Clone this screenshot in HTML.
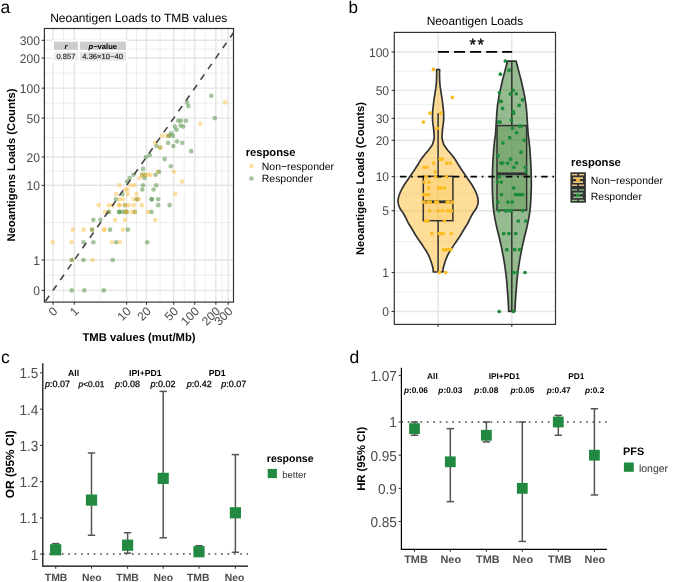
<!DOCTYPE html>
<html><head><meta charset="utf-8"><style>
html,body{margin:0;padding:0;background:#fff;}
svg{display:block;font-family:"Liberation Sans", sans-serif;text-rendering:geometricPrecision;}
#wrap{width:685px;height:582px;will-change:transform;overflow:hidden;}
</style></head><body><div id="wrap">
<svg width="685" height="582" viewBox="0 0 685 582">
<defs><filter id="soft" x="0" y="0" width="1" height="1"><feGaussianBlur stdDeviation="0.35"/></filter></defs>
<rect width="685" height="582" fill="#fff"/>
<g filter="url(#soft)">
<text x="0.6" y="12.9" font-size="17.5" fill="#000">a</text>
<text x="138.75" y="21.9" font-size="12.0" text-anchor="middle" font-weight="normal" fill="#000" >Neoantigen Loads to TMB values</text>
<line x1="63.64" y1="28.5" x2="63.64" y2="302.1" stroke="#E8E8E8" stroke-width="0.8" />
<line x1="44.4" y1="275.21" x2="233.5" y2="275.21" stroke="#E8E8E8" stroke-width="0.8" />
<line x1="100.45" y1="28.5" x2="100.45" y2="302.1" stroke="#E8E8E8" stroke-width="0.8" />
<line x1="44.4" y1="222.67" x2="233.5" y2="222.67" stroke="#E8E8E8" stroke-width="0.8" />
<line x1="136.55" y1="28.5" x2="136.55" y2="302.1" stroke="#E8E8E8" stroke-width="0.8" />
<line x1="44.4" y1="171.16" x2="233.5" y2="171.16" stroke="#E8E8E8" stroke-width="0.8" />
<line x1="160.1" y1="28.5" x2="160.1" y2="302.1" stroke="#E8E8E8" stroke-width="0.8" />
<line x1="44.4" y1="137.55" x2="233.5" y2="137.55" stroke="#E8E8E8" stroke-width="0.8" />
<line x1="184.22" y1="28.5" x2="184.22" y2="302.1" stroke="#E8E8E8" stroke-width="0.8" />
<line x1="44.4" y1="103.14" x2="233.5" y2="103.14" stroke="#E8E8E8" stroke-width="0.8" />
<line x1="205.27" y1="28.5" x2="205.27" y2="302.1" stroke="#E8E8E8" stroke-width="0.8" />
<line x1="44.4" y1="73.09" x2="233.5" y2="73.09" stroke="#E8E8E8" stroke-width="0.8" />
<line x1="222.04" y1="28.5" x2="222.04" y2="302.1" stroke="#E8E8E8" stroke-width="0.8" />
<line x1="44.4" y1="49.16" x2="233.5" y2="49.16" stroke="#E8E8E8" stroke-width="0.8" />
<line x1="53" y1="28.5" x2="53" y2="302.1" stroke="#E5E5E5" stroke-width="1.4" />
<line x1="44.4" y1="290.4" x2="233.5" y2="290.4" stroke="#E5E5E5" stroke-width="1.4" />
<line x1="74.28" y1="28.5" x2="74.28" y2="302.1" stroke="#E5E5E5" stroke-width="1.4" />
<line x1="44.4" y1="260.03" x2="233.5" y2="260.03" stroke="#E5E5E5" stroke-width="1.4" />
<line x1="126.63" y1="28.5" x2="126.63" y2="302.1" stroke="#E5E5E5" stroke-width="1.4" />
<line x1="44.4" y1="185.32" x2="233.5" y2="185.32" stroke="#E5E5E5" stroke-width="1.4" />
<line x1="146.48" y1="28.5" x2="146.48" y2="302.1" stroke="#E5E5E5" stroke-width="1.4" />
<line x1="44.4" y1="156.99" x2="233.5" y2="156.99" stroke="#E5E5E5" stroke-width="1.4" />
<line x1="173.73" y1="28.5" x2="173.73" y2="302.1" stroke="#E5E5E5" stroke-width="1.4" />
<line x1="44.4" y1="118.11" x2="233.5" y2="118.11" stroke="#E5E5E5" stroke-width="1.4" />
<line x1="194.71" y1="28.5" x2="194.71" y2="302.1" stroke="#E5E5E5" stroke-width="1.4" />
<line x1="44.4" y1="88.16" x2="233.5" y2="88.16" stroke="#E5E5E5" stroke-width="1.4" />
<line x1="215.84" y1="28.5" x2="215.84" y2="302.1" stroke="#E5E5E5" stroke-width="1.4" />
<line x1="44.4" y1="58.01" x2="233.5" y2="58.01" stroke="#E5E5E5" stroke-width="1.4" />
<line x1="228.23" y1="28.5" x2="228.23" y2="302.1" stroke="#E5E5E5" stroke-width="1.4" />
<line x1="44.4" y1="40.31" x2="233.5" y2="40.31" stroke="#E5E5E5" stroke-width="1.4" />
<rect x="52.2" y="39.7" width="75.5" height="22.9" fill="#FFFFFF"/>
<rect x="54" y="41.7" width="23.9" height="8.2" fill="#CCCCCC"/>
<rect x="79.9" y="41.7" width="46" height="8.2" fill="#CCCCCC"/>
<rect x="54" y="51.9" width="23.9" height="8.8" fill="#F0F0F2"/>
<rect x="79.9" y="51.9" width="46" height="8.8" fill="#E4E4E4"/>
<text x="65.9" y="48.9" font-size="7.6" text-anchor="middle" font-weight="bold" font-style="italic" fill="#000">r</text>
<text x="102.8" y="48.9" font-size="7.6" text-anchor="middle" font-weight="bold" fill="#000"><tspan font-style="italic">p</tspan>−value</text>
<text x="65.9" y="59" font-size="7.6" text-anchor="middle" fill="#222" stroke="#222" stroke-width="0.15">0.857</text>
<text x="102.6" y="59" font-size="7.6" text-anchor="middle" fill="#222" stroke="#222" stroke-width="0.15">4.36×10−40</text>
<g>
<circle cx="71.8" cy="290.4" r="2.3" fill="rgba(74,139,60,0.5)"/>
<circle cx="84.3" cy="290.4" r="2.3" fill="rgba(74,139,60,0.5)"/>
<circle cx="103.8" cy="290.4" r="2.3" fill="rgba(74,139,60,0.5)"/>
<circle cx="71.8" cy="260.03" r="2.3" fill="rgba(251,186,53,0.45)"/>
<circle cx="71.8" cy="260.03" r="2.3" fill="rgba(74,139,60,0.5)"/>
<circle cx="83.5" cy="260.03" r="2.3" fill="rgba(74,139,60,0.5)"/>
<circle cx="92.6" cy="260.03" r="2.3" fill="rgba(251,186,53,0.45)"/>
<circle cx="112.7" cy="260.03" r="2.3" fill="rgba(74,139,60,0.5)"/>
<circle cx="52.7" cy="242.26" r="2.3" fill="rgba(251,186,53,0.45)"/>
<circle cx="71.5" cy="242.26" r="2.3" fill="rgba(251,186,53,0.45)"/>
<circle cx="83.5" cy="242.26" r="2.3" fill="rgba(74,139,60,0.5)"/>
<circle cx="93.4" cy="242.26" r="2.3" fill="rgba(74,139,60,0.5)"/>
<circle cx="111.8" cy="242.26" r="2.3" fill="rgba(251,186,53,0.45)"/>
<circle cx="116.2" cy="242.26" r="2.3" fill="rgba(74,139,60,0.5)"/>
<circle cx="119.7" cy="242.26" r="2.3" fill="rgba(251,186,53,0.45)"/>
<circle cx="147.2" cy="242.26" r="2.3" fill="rgba(74,139,60,0.5)"/>
<circle cx="72.8" cy="229.65" r="2.3" fill="rgba(251,186,53,0.45)"/>
<circle cx="83.5" cy="229.65" r="2.3" fill="rgba(251,186,53,0.45)"/>
<circle cx="92.1" cy="229.65" r="2.3" fill="rgba(251,186,53,0.45)"/>
<circle cx="92.1" cy="229.65" r="2.3" fill="rgba(74,139,60,0.5)"/>
<circle cx="104.2" cy="229.65" r="2.3" fill="rgba(251,186,53,0.45)"/>
<circle cx="104.2" cy="229.65" r="2.3" fill="rgba(251,186,53,0.45)"/>
<circle cx="110.1" cy="229.65" r="2.3" fill="rgba(74,139,60,0.5)"/>
<circle cx="122.9" cy="229.65" r="2.3" fill="rgba(251,186,53,0.45)"/>
<circle cx="127.9" cy="229.65" r="2.3" fill="rgba(74,139,60,0.5)"/>
<circle cx="93.4" cy="219.87" r="2.3" fill="rgba(74,139,60,0.5)"/>
<circle cx="100.4" cy="219.87" r="2.3" fill="rgba(74,139,60,0.5)"/>
<circle cx="115.1" cy="219.87" r="2.3" fill="rgba(251,186,53,0.45)"/>
<circle cx="125" cy="219.87" r="2.3" fill="rgba(251,186,53,0.45)"/>
<circle cx="155.3" cy="219.87" r="2.3" fill="rgba(251,186,53,0.45)"/>
<circle cx="105" cy="211.88" r="2.3" fill="rgba(251,186,53,0.45)"/>
<circle cx="108.8" cy="211.88" r="2.3" fill="rgba(251,186,53,0.45)"/>
<circle cx="108.8" cy="211.88" r="2.3" fill="rgba(74,139,60,0.5)"/>
<circle cx="119.3" cy="211.88" r="2.3" fill="rgba(74,139,60,0.5)"/>
<circle cx="119.3" cy="211.88" r="2.3" fill="rgba(74,139,60,0.5)"/>
<circle cx="122.8" cy="211.88" r="2.3" fill="rgba(74,139,60,0.5)"/>
<circle cx="125.5" cy="211.88" r="2.3" fill="rgba(74,139,60,0.5)"/>
<circle cx="125.5" cy="211.88" r="2.3" fill="rgba(251,186,53,0.45)"/>
<circle cx="126.8" cy="211.88" r="2.3" fill="rgba(74,139,60,0.5)"/>
<circle cx="126.8" cy="211.88" r="2.3" fill="rgba(251,186,53,0.45)"/>
<circle cx="132.1" cy="211.88" r="2.3" fill="rgba(251,186,53,0.45)"/>
<circle cx="134.8" cy="211.88" r="2.3" fill="rgba(74,139,60,0.5)"/>
<circle cx="134.8" cy="211.88" r="2.3" fill="rgba(251,186,53,0.45)"/>
<circle cx="148.2" cy="211.88" r="2.3" fill="rgba(251,186,53,0.45)"/>
<circle cx="151.5" cy="211.88" r="2.3" fill="rgba(74,139,60,0.5)"/>
<circle cx="98.6" cy="205.13" r="2.3" fill="rgba(251,186,53,0.45)"/>
<circle cx="108.7" cy="205.13" r="2.3" fill="rgba(251,186,53,0.45)"/>
<circle cx="112.6" cy="205.13" r="2.3" fill="rgba(251,186,53,0.45)"/>
<circle cx="119.3" cy="205.13" r="2.3" fill="rgba(251,186,53,0.45)"/>
<circle cx="119.3" cy="205.13" r="2.3" fill="rgba(251,186,53,0.45)"/>
<circle cx="125" cy="205.13" r="2.3" fill="rgba(74,139,60,0.5)"/>
<circle cx="125" cy="205.13" r="2.3" fill="rgba(251,186,53,0.45)"/>
<circle cx="128.6" cy="205.13" r="2.3" fill="rgba(251,186,53,0.45)"/>
<circle cx="133.8" cy="205.13" r="2.3" fill="rgba(251,186,53,0.45)"/>
<circle cx="141.9" cy="205.13" r="2.3" fill="rgba(251,186,53,0.45)"/>
<circle cx="158.2" cy="205.13" r="2.3" fill="rgba(74,139,60,0.5)"/>
<circle cx="169.6" cy="205.13" r="2.3" fill="rgba(74,139,60,0.5)"/>
<circle cx="116" cy="199.28" r="2.3" fill="rgba(74,139,60,0.5)"/>
<circle cx="119.6" cy="199.28" r="2.3" fill="rgba(251,186,53,0.45)"/>
<circle cx="122.9" cy="199.28" r="2.3" fill="rgba(251,186,53,0.45)"/>
<circle cx="133.8" cy="199.28" r="2.3" fill="rgba(251,186,53,0.45)"/>
<circle cx="137.1" cy="199.28" r="2.3" fill="rgba(251,186,53,0.45)"/>
<circle cx="137.1" cy="199.28" r="2.3" fill="rgba(74,139,60,0.5)"/>
<circle cx="139" cy="199.28" r="2.3" fill="rgba(251,186,53,0.45)"/>
<circle cx="151.7" cy="199.28" r="2.3" fill="rgba(74,139,60,0.5)"/>
<circle cx="151.7" cy="199.28" r="2.3" fill="rgba(74,139,60,0.5)"/>
<circle cx="158.1" cy="199.28" r="2.3" fill="rgba(74,139,60,0.5)"/>
<circle cx="116.3" cy="194.12" r="2.3" fill="rgba(251,186,53,0.45)"/>
<circle cx="122.4" cy="194.12" r="2.3" fill="rgba(74,139,60,0.5)"/>
<circle cx="127.6" cy="194.12" r="2.3" fill="rgba(251,186,53,0.45)"/>
<circle cx="136.4" cy="194.12" r="2.3" fill="rgba(251,186,53,0.45)"/>
<circle cx="175.2" cy="194.12" r="2.3" fill="rgba(251,186,53,0.45)"/>
<circle cx="125.2" cy="189.5" r="2.3" fill="rgba(251,186,53,0.45)"/>
<circle cx="127.6" cy="189.5" r="2.3" fill="rgba(251,186,53,0.45)"/>
<circle cx="142.3" cy="189.5" r="2.3" fill="rgba(74,139,60,0.5)"/>
<circle cx="153.6" cy="189.5" r="2.3" fill="rgba(74,139,60,0.5)"/>
<circle cx="119.4" cy="185.32" r="2.3" fill="rgba(251,186,53,0.45)"/>
<circle cx="130.8" cy="185.32" r="2.3" fill="rgba(251,186,53,0.45)"/>
<circle cx="134.5" cy="185.32" r="2.3" fill="rgba(251,186,53,0.45)"/>
<circle cx="143.1" cy="185.32" r="2.3" fill="rgba(74,139,60,0.5)"/>
<circle cx="156.2" cy="185.32" r="2.3" fill="rgba(74,139,60,0.5)"/>
<circle cx="127" cy="181.51" r="2.3" fill="rgba(74,139,60,0.5)"/>
<circle cx="182" cy="181.51" r="2.3" fill="rgba(251,186,53,0.45)"/>
<circle cx="129.7" cy="178" r="2.3" fill="rgba(74,139,60,0.5)"/>
<circle cx="139.6" cy="178" r="2.3" fill="rgba(251,186,53,0.45)"/>
<circle cx="144.4" cy="178" r="2.3" fill="rgba(74,139,60,0.5)"/>
<circle cx="133.5" cy="174.76" r="2.3" fill="rgba(74,139,60,0.5)"/>
<circle cx="142" cy="174.76" r="2.3" fill="rgba(74,139,60,0.5)"/>
<circle cx="142" cy="174.76" r="2.3" fill="rgba(251,186,53,0.45)"/>
<circle cx="144.8" cy="174.76" r="2.3" fill="rgba(74,139,60,0.5)"/>
<circle cx="144.8" cy="174.76" r="2.3" fill="rgba(251,186,53,0.45)"/>
<circle cx="148.2" cy="174.76" r="2.3" fill="rgba(251,186,53,0.45)"/>
<circle cx="150.6" cy="174.76" r="2.3" fill="rgba(251,186,53,0.45)"/>
<circle cx="155.6" cy="174.76" r="2.3" fill="rgba(74,139,60,0.5)"/>
<circle cx="157.6" cy="171.73" r="2.3" fill="rgba(251,186,53,0.45)"/>
<circle cx="159.2" cy="171.73" r="2.3" fill="rgba(74,139,60,0.5)"/>
<circle cx="173.8" cy="171.73" r="2.3" fill="rgba(251,186,53,0.45)"/>
<circle cx="143.1" cy="168.9" r="2.3" fill="rgba(74,139,60,0.5)"/>
<circle cx="170.8" cy="166.25" r="2.3" fill="rgba(74,139,60,0.5)"/>
<circle cx="164.7" cy="159.13" r="2.3" fill="rgba(74,139,60,0.5)"/>
<circle cx="146" cy="156.99" r="2.3" fill="rgba(74,139,60,0.5)"/>
<circle cx="149.8" cy="154.95" r="2.3" fill="rgba(74,139,60,0.5)"/>
<circle cx="191.2" cy="151.14" r="2.3" fill="rgba(74,139,60,0.5)"/>
<circle cx="160.2" cy="147.63" r="2.3" fill="rgba(74,139,60,0.5)"/>
<circle cx="160.2" cy="147.63" r="2.3" fill="rgba(251,186,53,0.45)"/>
<circle cx="156.5" cy="145.98" r="2.3" fill="rgba(74,139,60,0.5)"/>
<circle cx="173.3" cy="145.98" r="2.3" fill="rgba(74,139,60,0.5)"/>
<circle cx="155.1" cy="142.84" r="2.3" fill="rgba(251,186,53,0.45)"/>
<circle cx="168.1" cy="142.84" r="2.3" fill="rgba(74,139,60,0.5)"/>
<circle cx="182.3" cy="142.84" r="2.3" fill="rgba(74,139,60,0.5)"/>
<circle cx="177" cy="141.36" r="2.3" fill="rgba(74,139,60,0.5)"/>
<circle cx="162.2" cy="135.87" r="2.3" fill="rgba(251,186,53,0.45)"/>
<circle cx="167" cy="135.87" r="2.3" fill="rgba(251,186,53,0.45)"/>
<circle cx="168.8" cy="135.87" r="2.3" fill="rgba(251,186,53,0.45)"/>
<circle cx="168.8" cy="135.87" r="2.3" fill="rgba(74,139,60,0.5)"/>
<circle cx="173" cy="135.87" r="2.3" fill="rgba(74,139,60,0.5)"/>
<circle cx="171.1" cy="133.37" r="2.3" fill="rgba(74,139,60,0.5)"/>
<circle cx="176.5" cy="129.86" r="2.3" fill="rgba(74,139,60,0.5)"/>
<circle cx="174.8" cy="126.61" r="2.3" fill="rgba(74,139,60,0.5)"/>
<circle cx="183.3" cy="126.61" r="2.3" fill="rgba(74,139,60,0.5)"/>
<circle cx="180.5" cy="125.58" r="2.3" fill="rgba(74,139,60,0.5)"/>
<circle cx="200.4" cy="123.59" r="2.3" fill="rgba(251,186,53,0.45)"/>
<circle cx="178.2" cy="120.76" r="2.3" fill="rgba(74,139,60,0.5)"/>
<circle cx="181.1" cy="120.76" r="2.3" fill="rgba(74,139,60,0.5)"/>
<circle cx="186" cy="120.76" r="2.3" fill="rgba(74,139,60,0.5)"/>
<circle cx="214.8" cy="118.11" r="2.3" fill="rgba(74,139,60,0.5)"/>
<circle cx="188.4" cy="106.15" r="2.3" fill="rgba(74,139,60,0.5)"/>
<circle cx="187.1" cy="102.39" r="2.3" fill="rgba(74,139,60,0.5)"/>
<circle cx="225.3" cy="102.39" r="2.3" fill="rgba(251,186,53,0.45)"/>
<circle cx="211.3" cy="95.72" r="2.3" fill="rgba(74,139,60,0.5)"/>
</g>
<clipPath id="cpa"><rect x="44.4" y="28.5" width="189.1" height="273.6"/></clipPath>
<line x1="44.4" y1="302.67" x2="233.5" y2="32.8" stroke="#444444" stroke-width="1.6" stroke-dasharray="6.45 6.42" stroke-dashoffset="10.87" clip-path="url(#cpa)"/>
<rect x="44.4" y="28.5" width="189.1" height="273.6" fill="none" stroke="#333333" stroke-width="1.2"/>
<line x1="41.7" y1="290.4" x2="44.4" y2="290.4" stroke="#333333" stroke-width="1.07" />
<text transform="translate(39.9,295.11) scale(1,1.04)" font-size="12.1" text-anchor="end" fill="#4D4D4D">0</text>
<line x1="53" y1="302.1" x2="53" y2="304.8" stroke="#333333" stroke-width="1.07" />
<text transform="translate(58.2,311.9) rotate(-45)" font-size="12.1" text-anchor="end" fill="#4D4D4D">0</text>
<line x1="41.7" y1="260.03" x2="44.4" y2="260.03" stroke="#333333" stroke-width="1.07" />
<text transform="translate(39.9,264.73) scale(1,1.04)" font-size="12.1" text-anchor="end" fill="#4D4D4D">1</text>
<line x1="74.28" y1="302.1" x2="74.28" y2="304.8" stroke="#333333" stroke-width="1.07" />
<text transform="translate(79.48,311.9) rotate(-45)" font-size="12.1" text-anchor="end" fill="#4D4D4D">1</text>
<line x1="41.7" y1="185.32" x2="44.4" y2="185.32" stroke="#333333" stroke-width="1.07" />
<text transform="translate(39.9,190.03) scale(1,1.04)" font-size="12.1" text-anchor="end" fill="#4D4D4D">10</text>
<line x1="126.63" y1="302.1" x2="126.63" y2="304.8" stroke="#333333" stroke-width="1.07" />
<text transform="translate(131.83,311.9) rotate(-45)" font-size="12.1" text-anchor="end" fill="#4D4D4D">10</text>
<line x1="41.7" y1="156.99" x2="44.4" y2="156.99" stroke="#333333" stroke-width="1.07" />
<text transform="translate(39.9,161.69) scale(1,1.04)" font-size="12.1" text-anchor="end" fill="#4D4D4D">20</text>
<line x1="146.48" y1="302.1" x2="146.48" y2="304.8" stroke="#333333" stroke-width="1.07" />
<text transform="translate(151.68,311.9) rotate(-45)" font-size="12.1" text-anchor="end" fill="#4D4D4D">20</text>
<line x1="41.7" y1="118.11" x2="44.4" y2="118.11" stroke="#333333" stroke-width="1.07" />
<text transform="translate(39.9,122.81) scale(1,1.04)" font-size="12.1" text-anchor="end" fill="#4D4D4D">50</text>
<line x1="173.73" y1="302.1" x2="173.73" y2="304.8" stroke="#333333" stroke-width="1.07" />
<text transform="translate(178.93,311.9) rotate(-45)" font-size="12.1" text-anchor="end" fill="#4D4D4D">50</text>
<line x1="41.7" y1="88.16" x2="44.4" y2="88.16" stroke="#333333" stroke-width="1.07" />
<text transform="translate(39.9,92.87) scale(1,1.04)" font-size="12.1" text-anchor="end" fill="#4D4D4D">100</text>
<line x1="194.71" y1="302.1" x2="194.71" y2="304.8" stroke="#333333" stroke-width="1.07" />
<text transform="translate(199.91,311.9) rotate(-45)" font-size="12.1" text-anchor="end" fill="#4D4D4D">100</text>
<line x1="41.7" y1="58.01" x2="44.4" y2="58.01" stroke="#333333" stroke-width="1.07" />
<text transform="translate(39.9,62.71) scale(1,1.04)" font-size="12.1" text-anchor="end" fill="#4D4D4D">200</text>
<line x1="215.84" y1="302.1" x2="215.84" y2="304.8" stroke="#333333" stroke-width="1.07" />
<text transform="translate(221.04,311.9) rotate(-45)" font-size="12.1" text-anchor="end" fill="#4D4D4D">200</text>
<line x1="41.7" y1="40.31" x2="44.4" y2="40.31" stroke="#333333" stroke-width="1.07" />
<text transform="translate(39.9,45.02) scale(1,1.04)" font-size="12.1" text-anchor="end" fill="#4D4D4D">300</text>
<line x1="228.23" y1="302.1" x2="228.23" y2="304.8" stroke="#333333" stroke-width="1.07" />
<text transform="translate(233.43,311.9) rotate(-45)" font-size="12.1" text-anchor="end" fill="#4D4D4D">300</text>
<text x="139" y="340.5" font-size="11.25" text-anchor="middle" font-weight="bold" fill="#000" >TMB values (mut/Mb)</text>
<text transform="translate(14.8,165.05) rotate(-90)" font-size="11.25" text-anchor="middle" font-weight="bold" fill="#000">Neoantigens Loads (Counts)</text>
<text x="245.7" y="156" font-size="11.2" text-anchor="start" font-weight="bold" fill="#000" >response</text>
<circle cx="251.4" cy="166.3" r="2.3" fill="rgba(251,186,53,0.45)"/>
<circle cx="251.4" cy="178.5" r="2.3" fill="rgba(74,139,60,0.5)"/>
<text x="261.8" y="169.5" font-size="10.45" text-anchor="start" font-weight="normal" fill="#000" >Non−responder</text>
<text x="261.8" y="181.8" font-size="10.45" text-anchor="start" font-weight="normal" fill="#000" >Responder</text>
<text x="348.4" y="13.1" font-size="17" fill="#000">b</text>
<text x="474.9" y="25.1" font-size="11.9" text-anchor="middle" font-weight="normal" fill="#000" >Neoantigen Loads</text>
<line x1="394.3" y1="292.01" x2="555.5" y2="292.01" stroke="#E8E8E8" stroke-width="0.8" />
<line x1="394.3" y1="241.62" x2="555.5" y2="241.62" stroke="#E8E8E8" stroke-width="0.8" />
<line x1="394.3" y1="193.68" x2="555.5" y2="193.68" stroke="#E8E8E8" stroke-width="0.8" />
<line x1="394.3" y1="158.46" x2="555.5" y2="158.46" stroke="#E8E8E8" stroke-width="0.8" />
<line x1="394.3" y1="129.32" x2="555.5" y2="129.32" stroke="#E8E8E8" stroke-width="0.8" />
<line x1="394.3" y1="104.37" x2="555.5" y2="104.37" stroke="#E8E8E8" stroke-width="0.8" />
<line x1="394.3" y1="71.16" x2="555.5" y2="71.16" stroke="#E8E8E8" stroke-width="0.8" />
<line x1="394.3" y1="311.5" x2="555.5" y2="311.5" stroke="#E5E5E5" stroke-width="1.4" />
<line x1="394.3" y1="272.52" x2="555.5" y2="272.52" stroke="#E5E5E5" stroke-width="1.4" />
<line x1="394.3" y1="210.73" x2="555.5" y2="210.73" stroke="#E5E5E5" stroke-width="1.4" />
<line x1="394.3" y1="176.64" x2="555.5" y2="176.64" stroke="#E5E5E5" stroke-width="1.4" />
<line x1="394.3" y1="140.27" x2="555.5" y2="140.27" stroke="#E5E5E5" stroke-width="1.4" />
<line x1="394.3" y1="118.37" x2="555.5" y2="118.37" stroke="#E5E5E5" stroke-width="1.4" />
<line x1="394.3" y1="90.37" x2="555.5" y2="90.37" stroke="#E5E5E5" stroke-width="1.4" />
<line x1="394.3" y1="51.94" x2="555.5" y2="51.94" stroke="#E5E5E5" stroke-width="1.4" />
<line x1="438.1" y1="32.4" x2="438.1" y2="324.4" stroke="#E5E5E5" stroke-width="1.4" />
<line x1="511.8" y1="32.4" x2="511.8" y2="324.4" stroke="#E5E5E5" stroke-width="1.4" />
<clipPath id="cpb"><rect x="394.3" y="32.4" width="161.2" height="292.0"/></clipPath>
<path d="M436.6,69.6 L436.7,75 L436.5,81.5 L436.1,86 L435.5,90.1 L434.9,94 L434.2,98.7 L433.6,103 L433.1,107.3 L432.7,111 L432.5,115.8 L432.6,121 L433.1,125 L433.6,128.5 L433.9,131.9 L434.1,135 L434.2,138 L433.5,141 L432.4,144.7 L430.8,147 L428.7,150 L427.5,151.4 L425.1,154 L422.9,156.9 L421.9,158.1 L420.3,160.5 L418.5,163.7 L416.3,167 L414.1,170.6 L411.7,174 L409.3,177.5 L406.9,181 L404.6,184.3 L402.6,187.7 L400.8,191.2 L399.4,194.5 L398.4,197.7 L398,200.5 L398.1,202.5 L398.6,205 L399.6,207.7 L401,210 L402.5,212 L404.3,215 L406.2,218.7 L407.8,222 L408.7,223.8 L409.8,225.5 L411.1,227.5 L413.2,231 L415.5,235 L417.3,237.7 L419.7,241.2 L422,244.6 L424.3,248.1 L426.5,251.5 L428.4,254.9 L429.9,258.3 L431.1,261.8 L432.2,265.2 L433.1,268.7 L433.3,272 L442.9,272 L443.1,268.7 L444,265.2 L445.1,261.8 L446.3,258.3 L447.8,254.9 L449.7,251.5 L451.9,248.1 L454.2,244.6 L456.5,241.2 L458.9,237.7 L460.7,235 L463,231 L465.1,227.5 L466.4,225.5 L467.5,223.8 L468.4,222 L470,218.7 L471.9,215 L473.7,212 L475.2,210 L476.6,207.7 L477.6,205 L478.1,202.5 L478.2,200.5 L477.8,197.7 L476.8,194.5 L475.4,191.2 L473.6,187.7 L471.6,184.3 L469.3,181 L466.9,177.5 L464.5,174 L462.1,170.6 L459.9,167 L457.7,163.7 L455.9,160.5 L454.3,158.1 L453.3,156.9 L451.1,154 L448.7,151.4 L447.5,150 L445.4,147 L443.8,144.7 L442.7,141 L442,138 L442.1,135 L442.3,131.9 L442.6,128.5 L443.1,125 L443.6,121 L443.7,115.8 L443.5,111 L443.1,107.3 L442.6,103 L442,98.7 L441.3,94 L440.7,90.1 L440.1,86 L439.7,81.5 L439.5,75 L439.6,69.6 Z" fill="rgba(253,190,60,0.52)" stroke="#333333" stroke-width="1.7" stroke-linejoin="round"/>
<path d="M507.5,61.2 L506.2,66 L504.5,72.6 L502.5,80 L500.5,89 L499,96.2 L497.5,105.3 L496.8,113 L496.3,121.6 L495.9,128 L495.4,135 L494.6,140.5 L493.8,148 L493.3,155.9 L492.8,163 L492.5,171.4 L492.3,179 L492.3,186.9 L492.5,194 L492.8,200 L493.1,205 L493.6,210.3 L494.3,215 L495.3,220.6 L496.4,225.8 L497.6,231 L498.9,236 L500.1,241.3 L501.3,246.4 L502.3,251.6 L503.3,256.7 L504.2,261.9 L505,267 L505.7,272.2 L506.3,277.3 L506.8,282.5 L507.2,287.7 L507.6,292.9 L508,298 L508.3,303.2 L508.5,307.3 L508.7,311.4 L514.9,311.4 L515.1,307.3 L515.3,303.2 L515.6,298 L516,292.9 L516.4,287.7 L516.8,282.5 L517.3,277.3 L517.9,272.2 L518.6,267 L519.4,261.9 L520.3,256.7 L521.3,251.6 L522.3,246.4 L523.5,241.3 L524.7,236 L526,231 L527.2,225.8 L528.3,220.6 L529.3,215 L530,210.3 L530.5,205 L530.8,200 L531.1,194 L531.3,186.9 L531.3,179 L531.1,171.4 L530.8,163 L530.3,155.9 L529.8,148 L529,140.5 L528.2,135 L527.7,128 L527.3,121.6 L526.8,113 L526.1,105.3 L524.6,96.2 L523.1,89 L521.1,80 L519.1,72.6 L517.4,66 L516.1,61.2 Z" fill="rgba(52,125,40,0.52)" stroke="#333333" stroke-width="1.7" stroke-linejoin="round"/>
<rect x="423.3" y="176.3" width="29.6" height="44.4" fill="rgba(253,190,60,0.25)" stroke="#333333" stroke-width="1.5"/>
<line x1="438.1" y1="176.3" x2="438.1" y2="113.3" stroke="#333333" stroke-width="1.5" />
<line x1="438.1" y1="220.7" x2="438.1" y2="272" stroke="#333333" stroke-width="1.5" />
<line x1="423.3" y1="201.8" x2="452.9" y2="201.8" stroke="#333333" stroke-width="2.8" />
<rect x="497" y="125.6" width="29.6" height="84.6" fill="rgba(52,125,40,0.25)" stroke="#333333" stroke-width="1.5"/>
<line x1="511.8" y1="125.6" x2="511.8" y2="61.2" stroke="#333333" stroke-width="1.5" />
<line x1="511.8" y1="210.2" x2="511.8" y2="311.4" stroke="#333333" stroke-width="1.5" />
<line x1="497" y1="173.8" x2="526.6" y2="173.8" stroke="#333333" stroke-width="2.8" />
<line x1="394.3" y1="176.64" x2="555.5" y2="176.64" stroke="#000" stroke-width="1.6" stroke-dasharray="1.6 4.83 6.4 4.83" stroke-dashoffset="0.8"/>
<circle cx="433.4" cy="69.43" r="1.85" fill="#FBBD23"/>
<circle cx="452.4" cy="97.41" r="1.85" fill="#FBBD23"/>
<circle cx="430" cy="113.17" r="1.85" fill="#FBBD23"/>
<circle cx="441" cy="113.17" r="1.85" fill="#FBBD23"/>
<circle cx="423.4" cy="122.12" r="1.85" fill="#FBBD23"/>
<circle cx="437.1" cy="128.26" r="1.85" fill="#FBBD23"/>
<circle cx="440.2" cy="159.2" r="1.85" fill="#FBBD23"/>
<circle cx="442.5" cy="159.2" r="1.85" fill="#FBBD23"/>
<circle cx="433.6" cy="163.08" r="1.85" fill="#FBBD23"/>
<circle cx="446.6" cy="163.08" r="1.85" fill="#FBBD23"/>
<circle cx="450.2" cy="163.08" r="1.85" fill="#FBBD23"/>
<circle cx="424.1" cy="167.24" r="1.85" fill="#FBBD23"/>
<circle cx="426.9" cy="167.24" r="1.85" fill="#FBBD23"/>
<circle cx="435.1" cy="171.75" r="1.85" fill="#FBBD23"/>
<circle cx="426.1" cy="176.64" r="1.85" fill="#FBBD23"/>
<circle cx="435.6" cy="176.64" r="1.85" fill="#FBBD23"/>
<circle cx="446.4" cy="176.64" r="1.85" fill="#FBBD23"/>
<circle cx="424.3" cy="182" r="1.85" fill="#FBBD23"/>
<circle cx="428.9" cy="182" r="1.85" fill="#FBBD23"/>
<circle cx="428.8" cy="187.93" r="1.85" fill="#FBBD23"/>
<circle cx="438.4" cy="187.93" r="1.85" fill="#FBBD23"/>
<circle cx="440.9" cy="187.93" r="1.85" fill="#FBBD23"/>
<circle cx="444.5" cy="187.93" r="1.85" fill="#FBBD23"/>
<circle cx="423.5" cy="194.55" r="1.85" fill="#FBBD23"/>
<circle cx="425.8" cy="194.55" r="1.85" fill="#FBBD23"/>
<circle cx="428.8" cy="194.55" r="1.85" fill="#FBBD23"/>
<circle cx="424" cy="202.06" r="1.85" fill="#FBBD23"/>
<circle cx="427.9" cy="202.06" r="1.85" fill="#FBBD23"/>
<circle cx="430.3" cy="202.06" r="1.85" fill="#FBBD23"/>
<circle cx="435.6" cy="202.06" r="1.85" fill="#FBBD23"/>
<circle cx="437.5" cy="202.06" r="1.85" fill="#FBBD23"/>
<circle cx="447.2" cy="202.06" r="1.85" fill="#FBBD23"/>
<circle cx="448.9" cy="202.06" r="1.85" fill="#FBBD23"/>
<circle cx="452.4" cy="202.06" r="1.85" fill="#FBBD23"/>
<circle cx="429.6" cy="210.73" r="1.85" fill="#FBBD23"/>
<circle cx="438.2" cy="210.73" r="1.85" fill="#FBBD23"/>
<circle cx="442.3" cy="210.73" r="1.85" fill="#FBBD23"/>
<circle cx="447.2" cy="210.73" r="1.85" fill="#FBBD23"/>
<circle cx="449.4" cy="210.73" r="1.85" fill="#FBBD23"/>
<circle cx="451.5" cy="210.73" r="1.85" fill="#FBBD23"/>
<circle cx="425.7" cy="220.98" r="1.85" fill="#FBBD23"/>
<circle cx="427.9" cy="220.98" r="1.85" fill="#FBBD23"/>
<circle cx="444.4" cy="220.98" r="1.85" fill="#FBBD23"/>
<circle cx="431.8" cy="233.53" r="1.85" fill="#FBBD23"/>
<circle cx="439.1" cy="233.53" r="1.85" fill="#FBBD23"/>
<circle cx="441" cy="233.53" r="1.85" fill="#FBBD23"/>
<circle cx="443.2" cy="233.53" r="1.85" fill="#FBBD23"/>
<circle cx="451.3" cy="233.53" r="1.85" fill="#FBBD23"/>
<circle cx="443.4" cy="249.71" r="1.85" fill="#FBBD23"/>
<circle cx="445.7" cy="249.71" r="1.85" fill="#FBBD23"/>
<circle cx="448.1" cy="249.71" r="1.85" fill="#FBBD23"/>
<circle cx="450.9" cy="249.71" r="1.85" fill="#FBBD23"/>
<circle cx="439.4" cy="272.52" r="1.85" fill="#FBBD23"/>
<circle cx="445.7" cy="272.52" r="1.85" fill="#FBBD23"/>
<circle cx="505.3" cy="60.98" r="1.85" fill="#1F8B3B"/>
<circle cx="509.1" cy="70.2" r="1.85" fill="#1F8B3B"/>
<circle cx="500.4" cy="74.19" r="1.85" fill="#1F8B3B"/>
<circle cx="513.2" cy="90.37" r="1.85" fill="#1F8B3B"/>
<circle cx="499.4" cy="92.62" r="1.85" fill="#1F8B3B"/>
<circle cx="510.4" cy="93.78" r="1.85" fill="#1F8B3B"/>
<circle cx="516.3" cy="93.78" r="1.85" fill="#1F8B3B"/>
<circle cx="522.4" cy="99.97" r="1.85" fill="#1F8B3B"/>
<circle cx="500.1" cy="101.29" r="1.85" fill="#1F8B3B"/>
<circle cx="501.2" cy="101.29" r="1.85" fill="#1F8B3B"/>
<circle cx="519.1" cy="105.46" r="1.85" fill="#1F8B3B"/>
<circle cx="502.6" cy="108.42" r="1.85" fill="#1F8B3B"/>
<circle cx="513.2" cy="111.54" r="1.85" fill="#1F8B3B"/>
<circle cx="513.6" cy="113.17" r="1.85" fill="#1F8B3B"/>
<circle cx="511.4" cy="120.21" r="1.85" fill="#1F8B3B"/>
<circle cx="498.7" cy="122.12" r="1.85" fill="#1F8B3B"/>
<circle cx="500.1" cy="122.12" r="1.85" fill="#1F8B3B"/>
<circle cx="519.6" cy="126.14" r="1.85" fill="#1F8B3B"/>
<circle cx="521" cy="126.14" r="1.85" fill="#1F8B3B"/>
<circle cx="512.5" cy="128.26" r="1.85" fill="#1F8B3B"/>
<circle cx="516.6" cy="132.76" r="1.85" fill="#1F8B3B"/>
<circle cx="509.7" cy="137.66" r="1.85" fill="#1F8B3B"/>
<circle cx="524.1" cy="140.27" r="1.85" fill="#1F8B3B"/>
<circle cx="502.9" cy="143.02" r="1.85" fill="#1F8B3B"/>
<circle cx="521" cy="152.16" r="1.85" fill="#1F8B3B"/>
<circle cx="498.1" cy="155.57" r="1.85" fill="#1F8B3B"/>
<circle cx="510.5" cy="159.2" r="1.85" fill="#1F8B3B"/>
<circle cx="500.9" cy="163.08" r="1.85" fill="#1F8B3B"/>
<circle cx="502.8" cy="163.08" r="1.85" fill="#1F8B3B"/>
<circle cx="507.6" cy="163.08" r="1.85" fill="#1F8B3B"/>
<circle cx="516.4" cy="163.08" r="1.85" fill="#1F8B3B"/>
<circle cx="513.8" cy="167.24" r="1.85" fill="#1F8B3B"/>
<circle cx="525.2" cy="167.24" r="1.85" fill="#1F8B3B"/>
<circle cx="526" cy="171.75" r="1.85" fill="#1F8B3B"/>
<circle cx="499.4" cy="176.64" r="1.85" fill="#1F8B3B"/>
<circle cx="497.5" cy="182" r="1.85" fill="#1F8B3B"/>
<circle cx="501.4" cy="182" r="1.85" fill="#1F8B3B"/>
<circle cx="513.8" cy="187.93" r="1.85" fill="#1F8B3B"/>
<circle cx="501.4" cy="194.55" r="1.85" fill="#1F8B3B"/>
<circle cx="515.6" cy="194.55" r="1.85" fill="#1F8B3B"/>
<circle cx="517.9" cy="194.55" r="1.85" fill="#1F8B3B"/>
<circle cx="520.3" cy="194.55" r="1.85" fill="#1F8B3B"/>
<circle cx="522.6" cy="194.55" r="1.85" fill="#1F8B3B"/>
<circle cx="497.8" cy="202.06" r="1.85" fill="#1F8B3B"/>
<circle cx="507.9" cy="202.06" r="1.85" fill="#1F8B3B"/>
<circle cx="512.2" cy="202.06" r="1.85" fill="#1F8B3B"/>
<circle cx="499.1" cy="210.73" r="1.85" fill="#1F8B3B"/>
<circle cx="505.3" cy="210.73" r="1.85" fill="#1F8B3B"/>
<circle cx="506.8" cy="210.73" r="1.85" fill="#1F8B3B"/>
<circle cx="509.9" cy="210.73" r="1.85" fill="#1F8B3B"/>
<circle cx="511.4" cy="210.73" r="1.85" fill="#1F8B3B"/>
<circle cx="522.6" cy="210.73" r="1.85" fill="#1F8B3B"/>
<circle cx="518.2" cy="220.98" r="1.85" fill="#1F8B3B"/>
<circle cx="525.8" cy="220.98" r="1.85" fill="#1F8B3B"/>
<circle cx="503.7" cy="233.53" r="1.85" fill="#1F8B3B"/>
<circle cx="508.9" cy="233.53" r="1.85" fill="#1F8B3B"/>
<circle cx="515.7" cy="233.53" r="1.85" fill="#1F8B3B"/>
<circle cx="506.8" cy="249.71" r="1.85" fill="#1F8B3B"/>
<circle cx="514.7" cy="249.71" r="1.85" fill="#1F8B3B"/>
<circle cx="519.6" cy="249.71" r="1.85" fill="#1F8B3B"/>
<circle cx="513.4" cy="272.52" r="1.85" fill="#1F8B3B"/>
<circle cx="517.1" cy="272.52" r="1.85" fill="#1F8B3B"/>
<circle cx="525" cy="272.52" r="1.85" fill="#1F8B3B"/>
<circle cx="499.2" cy="311.5" r="1.85" fill="#1F8B3B"/>
<circle cx="513.4" cy="311.5" r="1.85" fill="#1F8B3B"/>
<line x1="437.9" y1="51.9" x2="512.2" y2="51.9" stroke="#000" stroke-width="1.75" stroke-dasharray="11.1 4.97"/>
<text x="472.7" y="49.8" font-size="16.5" text-anchor="middle" font-weight="normal" fill="#000" stroke="#000" stroke-width="0.35">*</text>
<text x="480.6" y="49.8" font-size="16.5" text-anchor="middle" font-weight="normal" fill="#000" stroke="#000" stroke-width="0.35">*</text>
<rect x="394.3" y="32.4" width="161.2" height="292" fill="none" stroke="#333333" stroke-width="1.2"/>
<line x1="391.6" y1="311.5" x2="394.3" y2="311.5" stroke="#333333" stroke-width="1.07" />
<text transform="translate(389.1,316.21) scale(1,1.04)" font-size="12.1" text-anchor="end" fill="#4D4D4D">0</text>
<line x1="391.6" y1="272.52" x2="394.3" y2="272.52" stroke="#333333" stroke-width="1.07" />
<text transform="translate(389.1,277.22) scale(1,1.04)" font-size="12.1" text-anchor="end" fill="#4D4D4D">1</text>
<line x1="391.6" y1="210.73" x2="394.3" y2="210.73" stroke="#333333" stroke-width="1.07" />
<text transform="translate(389.1,215.43) scale(1,1.04)" font-size="12.1" text-anchor="end" fill="#4D4D4D">5</text>
<line x1="391.6" y1="176.64" x2="394.3" y2="176.64" stroke="#333333" stroke-width="1.07" />
<text transform="translate(389.1,181.34) scale(1,1.04)" font-size="12.1" text-anchor="end" fill="#4D4D4D">10</text>
<line x1="391.6" y1="140.27" x2="394.3" y2="140.27" stroke="#333333" stroke-width="1.07" />
<text transform="translate(389.1,144.98) scale(1,1.04)" font-size="12.1" text-anchor="end" fill="#4D4D4D">20</text>
<line x1="391.6" y1="118.37" x2="394.3" y2="118.37" stroke="#333333" stroke-width="1.07" />
<text transform="translate(389.1,123.07) scale(1,1.04)" font-size="12.1" text-anchor="end" fill="#4D4D4D">30</text>
<line x1="391.6" y1="90.37" x2="394.3" y2="90.37" stroke="#333333" stroke-width="1.07" />
<text transform="translate(389.1,95.07) scale(1,1.04)" font-size="12.1" text-anchor="end" fill="#4D4D4D">50</text>
<line x1="391.6" y1="51.94" x2="394.3" y2="51.94" stroke="#333333" stroke-width="1.07" />
<text transform="translate(389.1,56.65) scale(1,1.04)" font-size="12.1" text-anchor="end" fill="#4D4D4D">100</text>
<line x1="438.1" y1="324.4" x2="438.1" y2="327.1" stroke="#333333" stroke-width="1.07" />
<line x1="511.8" y1="324.4" x2="511.8" y2="327.1" stroke="#333333" stroke-width="1.07" />
<text transform="translate(363.6,178.55) rotate(-90)" font-size="11.25" text-anchor="middle" font-weight="bold" fill="#000">Neoantigens Loads (Counts)</text>
<text x="571.1" y="165.9" font-size="11.2" text-anchor="start" font-weight="bold" fill="#000" >response</text>
<rect x="570.4" y="172.3" width="15.5" height="30.4" fill="#333333"/>
<rect x="571.9" y="174.05" width="5.4" height="1.3" fill="#FDD68A"/>
<rect x="579.1" y="174.05" width="5.0" height="1.3" fill="#FDD68A"/>
<rect x="571.9" y="184.55" width="5.4" height="1.3" fill="#FDD68A"/>
<rect x="579.1" y="184.55" width="5.0" height="1.3" fill="#FDD68A"/>
<rect x="573.1" y="177.3" width="9.9" height="1.6" fill="#FDD68A"/>
<rect x="573.1" y="181.3" width="9.9" height="1.6" fill="#FDD68A"/>
<rect x="576.4" y="178.9" width="3.2" height="2.4" fill="#FDD68A"/>
<circle cx="577.9" cy="180" r="1.6" fill="#FBBD23"/>
<rect x="571.9" y="189.25" width="5.4" height="1.3" fill="#8FBF86"/>
<rect x="579.1" y="189.25" width="5.0" height="1.3" fill="#8FBF86"/>
<rect x="571.9" y="199.75" width="5.4" height="1.3" fill="#8FBF86"/>
<rect x="579.1" y="199.75" width="5.0" height="1.3" fill="#8FBF86"/>
<rect x="573.1" y="192.5" width="9.9" height="1.6" fill="#8FBF86"/>
<rect x="573.1" y="196.5" width="9.9" height="1.6" fill="#8FBF86"/>
<rect x="576.4" y="194.1" width="3.2" height="2.4" fill="#8FBF86"/>
<circle cx="577.9" cy="195.2" r="1.6" fill="#1F8B3B"/>
<text x="590.8" y="184.3" font-size="10.45" text-anchor="start" font-weight="normal" fill="#000" >Non−responder</text>
<text x="590.8" y="199.5" font-size="10.45" text-anchor="start" font-weight="normal" fill="#000" >Responder</text>
<text x="0.9" y="362.6" font-size="17.5" fill="#000">c</text>
<line x1="42.8" y1="566.2" x2="248" y2="566.2" stroke="#000" stroke-width="1.2" />
<line x1="42.8" y1="363.3" x2="42.8" y2="566.8" stroke="#000" stroke-width="1.2" />
<line x1="40.1" y1="554.1" x2="42.8" y2="554.1" stroke="#333" stroke-width="1.07" />
<text transform="translate(38.3,559.66) scale(1,1.08)" font-size="13.6" text-anchor="end" fill="#4D4D4D">1</text>
<line x1="40.1" y1="517.86" x2="42.8" y2="517.86" stroke="#333" stroke-width="1.07" />
<text transform="translate(38.3,523.42) scale(1,1.08)" font-size="13.6" text-anchor="end" fill="#4D4D4D">1.1</text>
<line x1="40.1" y1="481.62" x2="42.8" y2="481.62" stroke="#333" stroke-width="1.07" />
<text transform="translate(38.3,487.18) scale(1,1.08)" font-size="13.6" text-anchor="end" fill="#4D4D4D">1.2</text>
<line x1="40.1" y1="445.38" x2="42.8" y2="445.38" stroke="#333" stroke-width="1.07" />
<text transform="translate(38.3,450.94) scale(1,1.08)" font-size="13.6" text-anchor="end" fill="#4D4D4D">1.3</text>
<line x1="40.1" y1="409.14" x2="42.8" y2="409.14" stroke="#333" stroke-width="1.07" />
<text transform="translate(38.3,414.7) scale(1,1.08)" font-size="13.6" text-anchor="end" fill="#4D4D4D">1.4</text>
<line x1="40.1" y1="372.9" x2="42.8" y2="372.9" stroke="#333" stroke-width="1.07" />
<text transform="translate(38.3,378.46) scale(1,1.08)" font-size="13.6" text-anchor="end" fill="#4D4D4D">1.5</text>
<line x1="42.8" y1="554.1" x2="248" y2="554.1" stroke="#444" stroke-width="1.5" stroke-dasharray="1.6 4.77"/>
<line x1="55.7" y1="543.59" x2="55.7" y2="553.74" stroke="#555555" stroke-width="1.5" />
<line x1="52" y1="543.59" x2="59.4" y2="543.59" stroke="#555555" stroke-width="1.5" />
<line x1="52" y1="553.74" x2="59.4" y2="553.74" stroke="#555555" stroke-width="1.5" />
<rect x="50.1" y="544.15" width="11.2" height="11.2" fill="#238A40"/>
<line x1="55.7" y1="566.2" x2="55.7" y2="568.7" stroke="#333" stroke-width="1.07" />
<text x="56.1" y="581.2" font-size="10.4" text-anchor="middle" font-weight="bold" fill="#4D4D4D" >TMB</text>
<line x1="91.5" y1="452.99" x2="91.5" y2="535.26" stroke="#555555" stroke-width="1.5" />
<line x1="87.8" y1="452.99" x2="95.2" y2="452.99" stroke="#555555" stroke-width="1.5" />
<line x1="87.8" y1="535.26" x2="95.2" y2="535.26" stroke="#555555" stroke-width="1.5" />
<rect x="85.9" y="494.5" width="11.2" height="11.2" fill="#238A40"/>
<line x1="91.5" y1="566.2" x2="91.5" y2="568.7" stroke="#333" stroke-width="1.07" />
<text x="91.9" y="581.2" font-size="10.4" text-anchor="middle" font-weight="bold" fill="#4D4D4D" >Neo</text>
<line x1="127.6" y1="532.72" x2="127.6" y2="553.19" stroke="#555555" stroke-width="1.5" />
<line x1="123.9" y1="532.72" x2="131.3" y2="532.72" stroke="#555555" stroke-width="1.5" />
<line x1="123.9" y1="553.19" x2="131.3" y2="553.19" stroke="#555555" stroke-width="1.5" />
<rect x="122" y="539.58" width="11.2" height="11.2" fill="#238A40"/>
<line x1="127.6" y1="566.2" x2="127.6" y2="568.7" stroke="#333" stroke-width="1.07" />
<text x="127.6" y="581.2" font-size="10.4" text-anchor="middle" font-weight="bold" fill="#4D4D4D" >TMB</text>
<line x1="163.2" y1="391.38" x2="163.2" y2="537.79" stroke="#555555" stroke-width="1.5" />
<line x1="159.5" y1="391.38" x2="166.9" y2="391.38" stroke="#555555" stroke-width="1.5" />
<line x1="159.5" y1="537.79" x2="166.9" y2="537.79" stroke="#555555" stroke-width="1.5" />
<rect x="157.6" y="472.76" width="11.2" height="11.2" fill="#238A40"/>
<line x1="163.2" y1="566.2" x2="163.2" y2="568.7" stroke="#333" stroke-width="1.07" />
<text x="163.2" y="581.2" font-size="10.4" text-anchor="middle" font-weight="bold" fill="#4D4D4D" >Neo</text>
<line x1="199" y1="545.76" x2="199" y2="554.82" stroke="#555555" stroke-width="1.5" />
<line x1="195.3" y1="545.76" x2="202.7" y2="545.76" stroke="#555555" stroke-width="1.5" />
<line x1="195.3" y1="554.82" x2="202.7" y2="554.82" stroke="#555555" stroke-width="1.5" />
<rect x="193.4" y="546.11" width="11.2" height="11.2" fill="#238A40"/>
<line x1="199" y1="566.2" x2="199" y2="568.7" stroke="#333" stroke-width="1.07" />
<text x="198.2" y="581.2" font-size="10.4" text-anchor="middle" font-weight="bold" fill="#4D4D4D" >TMB</text>
<line x1="235.4" y1="454.62" x2="235.4" y2="552.29" stroke="#555555" stroke-width="1.5" />
<line x1="231.7" y1="454.62" x2="239.1" y2="454.62" stroke="#555555" stroke-width="1.5" />
<line x1="231.7" y1="552.29" x2="239.1" y2="552.29" stroke="#555555" stroke-width="1.5" />
<rect x="229.8" y="507.19" width="11.2" height="11.2" fill="#238A40"/>
<line x1="235.4" y1="566.2" x2="235.4" y2="568.7" stroke="#333" stroke-width="1.07" />
<text x="234.6" y="581.2" font-size="10.4" text-anchor="middle" font-weight="bold" fill="#4D4D4D" >Neo</text>
<text x="73.6" y="375.7" font-size="8.7" text-anchor="middle" font-weight="bold" fill="#000" >All</text>
<text x="145.4" y="375.7" font-size="8.7" text-anchor="middle" font-weight="bold" fill="#000" >IPI+PD1</text>
<text x="217.2" y="375.7" font-size="8.7" text-anchor="middle" font-weight="bold" fill="#000" >PD1</text>
<text x="57.4" y="386.9" font-size="9" text-anchor="middle" fill="#000" stroke="#000" stroke-width="0.25"><tspan font-style="italic">p</tspan>:0.07</text>
<text x="91.4" y="386.9" font-size="8.4" text-anchor="middle" fill="#000" stroke="#000" stroke-width="0.25"><tspan font-style="italic">p</tspan><0.01</text>
<text x="127.6" y="386.9" font-size="9" text-anchor="middle" fill="#000" stroke="#000" stroke-width="0.25"><tspan font-style="italic">p</tspan>:0.08</text>
<text x="162.9" y="386.9" font-size="9" text-anchor="middle" fill="#000" stroke="#000" stroke-width="0.25"><tspan font-style="italic">p</tspan>:0.02</text>
<text x="199.3" y="386.9" font-size="9" text-anchor="middle" fill="#000" stroke="#000" stroke-width="0.25"><tspan font-style="italic">p</tspan>:0.42</text>
<text x="233.8" y="386.9" font-size="9" text-anchor="middle" fill="#000" stroke="#000" stroke-width="0.25"><tspan font-style="italic">p</tspan>:0.07</text>
<text transform="translate(14.3,464.2) rotate(-90)" font-size="11.9" text-anchor="middle" font-weight="bold" fill="#000">OR (95% CI)</text>
<text x="266.8" y="461.7" font-size="10.5" text-anchor="start" font-weight="bold" fill="#000" >response</text>
<rect x="267.7" y="468.9" width="9.2" height="9.2" fill="#238A40"/>
<text x="282.2" y="477.8" font-size="9.5" text-anchor="start" font-weight="normal" fill="#333" >better</text>
<text x="349.5" y="363.1" font-size="17.5" fill="#000">d</text>
<line x1="401.4" y1="549.3" x2="607" y2="549.3" stroke="#000" stroke-width="1.2" />
<line x1="401.4" y1="367.7" x2="401.4" y2="549.9" stroke="#000" stroke-width="1.2" />
<line x1="398.7" y1="375.55" x2="401.4" y2="375.55" stroke="#333" stroke-width="1.07" />
<text transform="translate(396.9,381.02) scale(1,1.06)" font-size="13.6" text-anchor="end" fill="#4D4D4D">1.07</text>
<line x1="398.7" y1="422" x2="401.4" y2="422" stroke="#333" stroke-width="1.07" />
<text transform="translate(396.9,427.46) scale(1,1.06)" font-size="13.6" text-anchor="end" fill="#4D4D4D">1</text>
<line x1="398.7" y1="455.18" x2="401.4" y2="455.18" stroke="#333" stroke-width="1.07" />
<text transform="translate(396.9,460.64) scale(1,1.06)" font-size="13.6" text-anchor="end" fill="#4D4D4D">0.95</text>
<line x1="398.7" y1="488.35" x2="401.4" y2="488.35" stroke="#333" stroke-width="1.07" />
<text transform="translate(396.9,493.81) scale(1,1.06)" font-size="13.6" text-anchor="end" fill="#4D4D4D">0.9</text>
<line x1="398.7" y1="521.52" x2="401.4" y2="521.52" stroke="#333" stroke-width="1.07" />
<text transform="translate(396.9,526.99) scale(1,1.06)" font-size="13.6" text-anchor="end" fill="#4D4D4D">0.85</text>
<line x1="401.4" y1="422" x2="607" y2="422" stroke="#444" stroke-width="1.5" stroke-dasharray="1.6 4.77"/>
<line x1="414.5" y1="422" x2="414.5" y2="435.27" stroke="#555555" stroke-width="1.5" />
<line x1="410.8" y1="422" x2="418.2" y2="422" stroke="#555555" stroke-width="1.5" />
<line x1="410.8" y1="435.27" x2="418.2" y2="435.27" stroke="#555555" stroke-width="1.5" />
<rect x="409.1" y="423.24" width="10.8" height="10.8" fill="#238A40"/>
<line x1="414.5" y1="549.3" x2="414.5" y2="551.8" stroke="#333" stroke-width="1.07" />
<text x="416" y="563.2" font-size="10.9" text-anchor="middle" font-weight="bold" fill="#4D4D4D" >TMB</text>
<line x1="450.3" y1="428.63" x2="450.3" y2="501.62" stroke="#555555" stroke-width="1.5" />
<line x1="446.6" y1="428.63" x2="454" y2="428.63" stroke="#555555" stroke-width="1.5" />
<line x1="446.6" y1="501.62" x2="454" y2="501.62" stroke="#555555" stroke-width="1.5" />
<rect x="444.9" y="456.41" width="10.8" height="10.8" fill="#238A40"/>
<line x1="450.3" y1="549.3" x2="450.3" y2="551.8" stroke="#333" stroke-width="1.07" />
<text x="450.8" y="563.2" font-size="10.9" text-anchor="middle" font-weight="bold" fill="#4D4D4D" >Neo</text>
<line x1="486.4" y1="422" x2="486.4" y2="441.91" stroke="#555555" stroke-width="1.5" />
<line x1="482.7" y1="422" x2="490.1" y2="422" stroke="#555555" stroke-width="1.5" />
<line x1="482.7" y1="441.91" x2="490.1" y2="441.91" stroke="#555555" stroke-width="1.5" />
<rect x="481" y="429.87" width="10.8" height="10.8" fill="#238A40"/>
<line x1="486.4" y1="549.3" x2="486.4" y2="551.8" stroke="#333" stroke-width="1.07" />
<text x="487.9" y="563.2" font-size="10.9" text-anchor="middle" font-weight="bold" fill="#4D4D4D" >TMB</text>
<line x1="522.3" y1="422" x2="522.3" y2="541.43" stroke="#555555" stroke-width="1.5" />
<line x1="518.6" y1="422" x2="526" y2="422" stroke="#555555" stroke-width="1.5" />
<line x1="518.6" y1="541.43" x2="526" y2="541.43" stroke="#555555" stroke-width="1.5" />
<rect x="516.9" y="482.95" width="10.8" height="10.8" fill="#238A40"/>
<line x1="522.3" y1="549.3" x2="522.3" y2="551.8" stroke="#333" stroke-width="1.07" />
<text x="522.8" y="563.2" font-size="10.9" text-anchor="middle" font-weight="bold" fill="#4D4D4D" >Neo</text>
<line x1="558.3" y1="415.37" x2="558.3" y2="435.27" stroke="#555555" stroke-width="1.5" />
<line x1="554.6" y1="415.37" x2="562" y2="415.37" stroke="#555555" stroke-width="1.5" />
<line x1="554.6" y1="435.27" x2="562" y2="435.27" stroke="#555555" stroke-width="1.5" />
<rect x="552.9" y="416.6" width="10.8" height="10.8" fill="#238A40"/>
<line x1="558.3" y1="549.3" x2="558.3" y2="551.8" stroke="#333" stroke-width="1.07" />
<text x="559.8" y="563.2" font-size="10.9" text-anchor="middle" font-weight="bold" fill="#4D4D4D" >TMB</text>
<line x1="594.4" y1="408.73" x2="594.4" y2="494.99" stroke="#555555" stroke-width="1.5" />
<line x1="590.7" y1="408.73" x2="598.1" y2="408.73" stroke="#555555" stroke-width="1.5" />
<line x1="590.7" y1="494.99" x2="598.1" y2="494.99" stroke="#555555" stroke-width="1.5" />
<rect x="589" y="449.78" width="10.8" height="10.8" fill="#238A40"/>
<line x1="594.4" y1="549.3" x2="594.4" y2="551.8" stroke="#333" stroke-width="1.07" />
<text x="594.9" y="563.2" font-size="10.9" text-anchor="middle" font-weight="bold" fill="#4D4D4D" >Neo</text>
<text x="432.4" y="379.3" font-size="8.3" text-anchor="middle" font-weight="bold" fill="#000" >All</text>
<text x="504.3" y="379.3" font-size="8.3" text-anchor="middle" font-weight="bold" fill="#000" >IPI+PD1</text>
<text x="576.3" y="379.3" font-size="8.3" text-anchor="middle" font-weight="bold" fill="#000" >PD1</text>
<text x="415.9" y="392.5" font-size="8.3" text-anchor="middle" font-weight="bold" fill="#000"><tspan font-style="italic">p</tspan>:0.06</text>
<text x="450.3" y="392.5" font-size="8.3" text-anchor="middle" font-weight="bold" fill="#000"><tspan font-style="italic">p</tspan>:0.03</text>
<text x="486.3" y="392.5" font-size="8.3" text-anchor="middle" font-weight="bold" fill="#000"><tspan font-style="italic">p</tspan>:0.08</text>
<text x="522.4" y="392.5" font-size="8.3" text-anchor="middle" font-weight="bold" fill="#000"><tspan font-style="italic">p</tspan>:0.05</text>
<text x="558.7" y="392.5" font-size="8.3" text-anchor="middle" font-weight="bold" fill="#000"><tspan font-style="italic">p</tspan>:0.47</text>
<text x="594.6" y="392.5" font-size="8.3" text-anchor="middle" font-weight="bold" fill="#000"><tspan font-style="italic">p</tspan>:0.2</text>
<text transform="translate(364.6,458.85) rotate(-90)" font-size="11.3" text-anchor="middle" font-weight="bold" fill="#000">HR (95% CI)</text>
<text x="623.1" y="455.1" font-size="10.8" text-anchor="start" font-weight="bold" fill="#000" >PFS</text>
<rect x="623.9" y="462.5" width="9.9" height="9.3" fill="#238A40"/>
<text x="638.9" y="471.5" font-size="10.5" text-anchor="start" font-weight="normal" fill="#333" >longer</text>
</g>
</svg>
</div></body></html>
